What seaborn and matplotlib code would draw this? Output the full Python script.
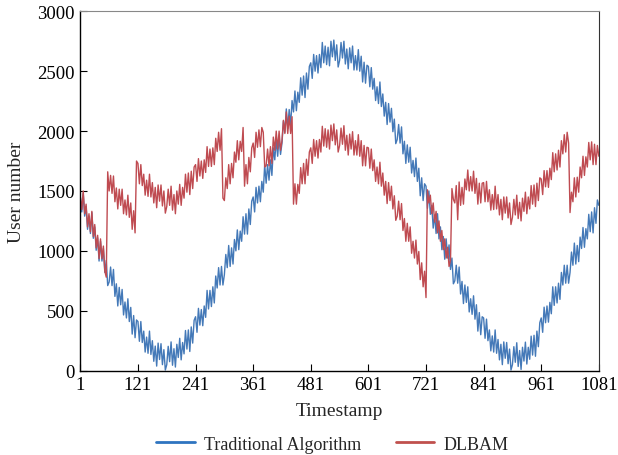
import numpy as np
import pandas as pd
import matplotlib
matplotlib.use("Agg")
import matplotlib.pyplot as plt
import seaborn as sns

# timestamps sampled every 3 steps, 1 .. 1081
timestamps = list(range(1, 1082, 3))

# values (one row = 20 samples = 60 timestamps)
traditional = [
    1450, 1325, 1480, 1290, 1370, 1180, 1290, 1145, 1320, 1105, 1200, 1005, 1110, 915, 1080, 915, 1020, 820, 920, 710,
    740, 865, 710, 845, 620, 725, 540, 695, 550, 678, 465, 573, 440, 600, 410, 528, 305, 460, 275, 423,
    410, 245, 410, 235, 330, 155, 280, 145, 330, 135, 250, 78, 205, 38, 230, 93, 225, 50, 175, 5,
    50, 203, 75, 240, 45, 183, 30, 220, 110, 270, 90, 235, 140, 335, 180, 340, 160, 365, 230, 420,
    450, 320, 520, 380, 510, 375, 540, 445, 670, 515, 670, 535, 700, 565, 790, 690, 860, 715, 870, 715,
    800, 970, 860, 1045, 870, 1025, 890, 1095, 1000, 1175, 1010, 1165, 1080, 1285, 1140, 1310, 1140, 1350, 1220, 1415,
    1450, 1325, 1530, 1400, 1540, 1410, 1580, 1490, 1720, 1565, 1720, 1590, 1760, 1630, 1860, 1760, 1930, 1790, 1950, 1805,
    1900, 2085, 1990, 2185, 2020, 2180, 2050, 2255, 2160, 2335, 2170, 2325, 2240, 2445, 2300, 2460, 2280, 2485, 2350, 2540,
    2570, 2440, 2640, 2500, 2630, 2485, 2640, 2530, 2740, 2570, 2710, 2555, 2700, 2545, 2750, 2620, 2760, 2590, 2720, 2535,
    2590, 2740, 2610, 2750, 2560, 2685, 2520, 2695, 2570, 2710, 2510, 2630, 2510, 2680, 2500, 2625, 2410, 2575, 2400, 2550,
    2540, 2370, 2530, 2350, 2440, 2255, 2370, 2230, 2410, 2205, 2310, 2125, 2240, 2055, 2230, 2075, 2190, 1995, 2100, 1895,
    1930, 2055, 1900, 2035, 1810, 1915, 1730, 1885, 1740, 1865, 1650, 1755, 1620, 1775, 1580, 1690, 1460, 1610, 1420, 1560,
    1540, 1355, 1500, 1305, 1380, 1190, 1300, 1145, 1310, 1100, 1200, 1010, 1120, 930, 1100, 940, 1050, 845, 940, 725,
    750, 880, 730, 865, 640, 745, 560, 715, 570, 700, 490, 600, 470, 625, 430, 550, 330, 485, 300, 450,
    440, 270, 430, 250, 340, 165, 290, 155, 340, 145, 260, 90, 220, 50, 240, 103, 235, 58, 180, 5,
    50, 200, 70, 233, 35, 168, 10, 195, 80, 238, 55, 195, 95, 288, 130, 295, 120, 330, 200, 400,
    440, 320, 530, 400, 540, 405, 570, 475, 700, 545, 700, 565, 730, 595, 820, 715, 880, 730, 880, 730,
    820, 990, 880, 1065, 890, 1045, 910, 1115, 1020, 1195, 1030, 1185, 1100, 1305, 1160, 1325, 1150, 1360, 1230, 1425,
    1380,
]

dlbam = [
    1450, 1345, 1500, 1310, 1390, 1200, 1310, 1160, 1330, 1120, 1220, 1025, 1130, 935, 1100, 935, 1040, 830, 780, 1660,
    1500, 1630, 1480, 1625, 1410, 1525, 1350, 1515, 1380, 1515, 1310, 1425, 1300, 1465, 1280, 1400, 1180, 1335, 1150, 1750,
    1730, 1560, 1720, 1545, 1640, 1465, 1590, 1455, 1640, 1450, 1570, 1400, 1530, 1360, 1550, 1415, 1550, 1375, 1500, 1315,
    1370, 1515, 1380, 1540, 1340, 1470, 1310, 1500, 1390, 1555, 1380, 1530, 1440, 1640, 1490, 1650, 1470, 1665, 1520, 1700,
    1720, 1580, 1770, 1625, 1750, 1605, 1760, 1655, 1870, 1705, 1850, 1705, 1860, 1720, 1940, 1830, 1990, 1840, 2020, 1440,
    1420, 1610, 1520, 1720, 1560, 1730, 1610, 1825, 1740, 1920, 1760, 1915, 1830, 2030, 1540, 1720, 1560, 1780, 1660, 1860,
    1900, 1780, 1990, 1865, 2010, 1870, 2030, 1990, 1700, 1710, 1850, 1710, 1870, 1730, 1950, 1840, 2000, 1850, 2000, 1840,
    1920, 2090, 1980, 2160, 1980, 2125, 1980, 2120, 1390, 1560, 1390, 1555, 1480, 1695, 1560, 1730, 1560, 1765, 1630, 1825,
    1860, 1730, 1930, 1790, 1920, 1775, 1930, 1825, 2040, 1875, 2020, 1865, 2010, 1850, 2050, 1920, 2060, 1885, 2010, 1825,
    1880, 2025, 1890, 2045, 1840, 1965, 1800, 1975, 1850, 1995, 1800, 1920, 1800, 1970, 1790, 1920, 1710, 1880, 1710, 1865,
    1860, 1690, 1850, 1670, 1760, 1580, 1700, 1560, 1740, 1540, 1650, 1465, 1580, 1395, 1570, 1420, 1540, 1350, 1460, 1255,
    1290, 1415, 1260, 1395, 1170, 1270, 1080, 1230, 1080, 1200, 980, 1080, 940, 1090, 890, 995, 760, 900, 700, 830,
    610, 1510, 1400, 1465, 1310, 1400, 1240, 1330, 1150, 1250, 1080, 1170, 1010, 1100, 940, 1030, 870, 920, 1520, 1430,
    1400, 1545, 1260, 1575, 1380, 1530, 1390, 1600, 1510, 1675, 1500, 1620, 1500, 1665, 1480, 1605, 1390, 1565, 1400, 1565,
    1570, 1410, 1580, 1410, 1510, 1340, 1470, 1345, 1540, 1350, 1470, 1300, 1430, 1260, 1450, 1315, 1450, 1275, 1400, 1220,
    1280, 1430, 1300, 1465, 1270, 1405, 1250, 1440, 1330, 1490, 1310, 1450, 1350, 1545, 1390, 1550, 1370, 1565, 1420, 1610,
    1600, 1470, 1670, 1535, 1670, 1530, 1690, 1595, 1820, 1660, 1810, 1675, 1840, 1700, 1920, 1810, 1970, 1825, 1990, 1900,
    1320, 1490, 1410, 1610, 1450, 1615, 1490, 1700, 1610, 1790, 1630, 1785, 1700, 1905, 1760, 1910, 1720, 1890, 1720, 1880,
    1790,
]

series_names = ["Traditional Algorithm", "DLBAM"]
x_ticks = [1, 121, 241, 361, 481, 601, 721, 841, 961, 1081]
y_ticks = [0, 500, 1000, 1500, 2000, 2500, 3000]


def main():
    assert len(traditional) == len(timestamps) == len(dlbam)

    sns.set_style("ticks")
    plt.rcParams["font.family"] = ["Liberation Serif", "DejaVu Serif"]

    df = pd.DataFrame({
        "Timestamp": timestamps * 2,
        "User number": traditional + dlbam,
        "Algorithm": [series_names[0]] * len(traditional) + [series_names[1]] * len(dlbam),
    })

    fig, ax = plt.subplots(figsize=(6.18, 4.56), dpi=100)
    fig.subplots_adjust(left=0.130, right=0.969, top=0.973, bottom=0.185)

    sns.lineplot(data=df, x="Timestamp", y="User number", hue="Algorithm",
                 palette=["#4479b8", "#bf4b51"], linewidth=1.0, ax=ax)

    ax.set_xlim(1, 1081)
    ax.set_ylim(0, 3000)
    ax.set_xticks(x_ticks)
    ax.set_yticks(y_ticks)
    ax.tick_params(direction="in", length=5, labelsize=13.5, colors="black", pad=4)
    ax.set_xlabel("Timestamp", fontsize=14, labelpad=6)
    ax.set_ylabel("User number", fontsize=14, labelpad=9)

    ax.spines["top"].set_color("#888888")
    ax.spines["top"].set_linewidth(0.8)
    ax.spines["right"].set_color("#333333")
    ax.spines["right"].set_linewidth(0.8)
    for side in ["left", "bottom"]:
        ax.spines[side].set_color("black")
        ax.spines[side].set_linewidth(1.0)

    handles, labels = ax.get_legend_handles_labels()
    handles[0].set_color("#2e74c0")
    handles[1].set_color("#c0504d")
    for h in handles:
        h.set_linewidth(2)
    ax.legend(handles, labels, loc="center", bbox_to_anchor=(0.486, -0.205),
              ncol=2, frameon=False, fontsize=13, handlelength=2.15,
              handletextpad=0.5, columnspacing=1.9)

    plt.savefig("out.png", dpi=100)


if __name__ == "__main__":
    main()
